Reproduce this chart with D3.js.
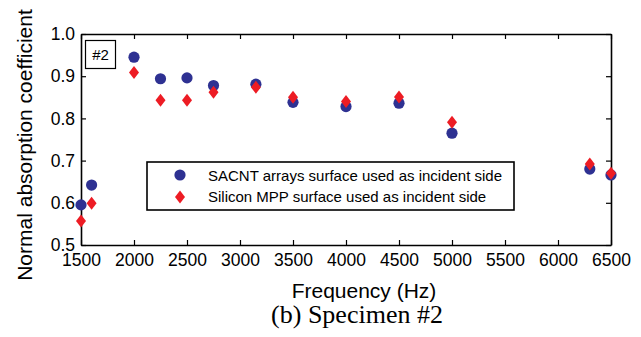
<!DOCTYPE html>
<html>
<head>
<meta charset="utf-8">
<script src="https://cdn.jsdelivr.net/npm/d3@7"></script>
<style>
  body { margin: 0; background: #fff; }
  text { font-family: "Liberation Sans", Arial, sans-serif; fill: #000; }
</style>
</head>
<body>
<div id="chart"></div>
<script>
// absorption coefficient vs frequency, specimen #2

var freqs = [1500, 1600, 2000, 2250, 2500, 2750, 3150, 3500, 4000, 4500, 5000, 6300, 6500];
var sacnt = [0.595, 0.642, 0.945, 0.894, 0.896, 0.878, 0.881, 0.838, 0.828, 0.836, 0.765, 0.680, 0.666];
var mpp   = [0.557, 0.599, 0.909, 0.843, 0.843, 0.862, 0.874, 0.850, 0.840, 0.851, 0.791, 0.692, 0.670];

var xTicks = [1500, 2000, 2500, 3000, 3500, 4000, 4500, 5000, 5500, 6000, 6500];
var yTicks = [0.5, 0.6, 0.7, 0.8, 0.9, 1.0];
var seriesNames = ['SACNT arrays surface used as incident side', 'Silicon MPP surface used as incident side'];

var W = 641, H = 337;
var pLeft = 81, pRight = 611, pTop = 34, pBottom = 245;

var svg = d3.select('#chart').append('svg')
  .attr('width', W)
  .attr('height', H);

var x = d3.scaleLinear().domain([1500, 6500]).range([pLeft, pRight]);
var y = d3.scaleLinear().domain([0.5, 1.0]).range([pBottom, pTop]);

var tickLen = 5;

// bottom axis (labels outside, ticks inward)
var xAxis = svg.append('g')
  .attr('transform', 'translate(0,' + pBottom + ')')
  .call(d3.axisBottom(x).tickValues(xTicks).tickSizeInner(-tickLen).tickSizeOuter(0).tickPadding(9).tickFormat(d3.format('d')));
xAxis.selectAll('text').style('font-size', '17.5px');

var yAxis = svg.append('g')
  .attr('transform', 'translate(' + pLeft + ',0)')
  .call(d3.axisLeft(y).tickValues(yTicks).tickSizeInner(-tickLen).tickSizeOuter(0).tickPadding(6).tickFormat(d3.format('.1f')));
yAxis.selectAll('text').style('font-size', '17.5px');

// top and right: ticks only
svg.append('g')
  .attr('transform', 'translate(0,' + pTop + ')')
  .call(d3.axisTop(x).tickValues(xTicks).tickSizeInner(-tickLen).tickSizeOuter(0).tickFormat(''));
svg.append('g')
  .attr('transform', 'translate(' + pRight + ',0)')
  .call(d3.axisRight(y).tickValues(yTicks).tickSizeInner(-tickLen).tickSizeOuter(0).tickFormat(''));

svg.selectAll('.domain').attr('stroke', '#000').attr('stroke-width', 1.6);
svg.selectAll('.tick line').attr('stroke', '#000').attr('stroke-width', 1.2);

// labels
svg.append('text')
  .attr('x', 364).attr('y', 298)
  .attr('text-anchor', 'middle')
  .style('font-size', '21px')
  .text('Frequency (Hz)');

svg.append('text')
  .attr('transform', 'translate(32,145) rotate(-90)')
  .attr('text-anchor', 'middle')
  .style('font-size', '21px')
  .text('Normal absorption coefficient');

svg.append('text')
  .attr('x', 357).attr('y', 323)
  .attr('text-anchor', 'middle')
  .style('font-family', '"Liberation Serif", "Times New Roman", serif')
  .style('font-size', '26px')
  .text('(b) Specimen #2');

// #2 box
svg.append('rect')
  .attr('x', 85.5).attr('y', 40.5).attr('width', 30).attr('height', 28)
  .attr('fill', '#fff').attr('stroke', '#000').attr('stroke-width', 1.2);
svg.append('text')
  .attr('x', 100.5).attr('y', 59.5)
  .attr('text-anchor', 'middle')
  .style('font-size', '15px')
  .text('#2');

var blue = '#2e3192', red = '#ed1c24';
var diamond = function(cx, cy) {
  return 'M' + cx + ',' + (cy - 6.5) + 'L' + (cx + 5) + ',' + cy + 'L' + cx + ',' + (cy + 6.5) + 'L' + (cx - 5) + ',' + cy + 'Z';
};

// points
svg.selectAll('circle.sacnt')
  .data(freqs)
  .enter()
  .append('circle')
    .attr('class', 'sacnt')
    .attr('cx', function(d) { return x(d); })
    .attr('cy', function(d, i) { return y(sacnt[i]); })
    .attr('r', 5.6)
    .attr('fill', blue);

svg.selectAll('path.mpp')
  .data(freqs)
  .enter()
  .append('path')
    .attr('class', 'mpp')
    .attr('d', function(d, i) { return diamond(x(d), y(mpp[i])); })
    .attr('fill', red);

// legend
var lg = svg.append('g');
lg.append('rect')
  .attr('x', 147).attr('y', 162).attr('width', 367).attr('height', 48)
  .attr('fill', '#fff').attr('stroke', '#000').attr('stroke-width', 1.6);
lg.append('circle').attr('cx', 180).attr('cy', 175).attr('r', 5.6).attr('fill', blue);
lg.append('path').attr('d', diamond(180, 197)).attr('fill', red);
lg.selectAll('text.leg')
  .data(seriesNames)
  .enter()
  .append('text')
    .attr('class', 'leg')
    .attr('x', 208)
    .attr('y', function(d, i) { return 180.5 + i * 21.5; })
    .style('font-size', '15px')
    .text(function(d) { return d; });
</script>
</body>
</html>
